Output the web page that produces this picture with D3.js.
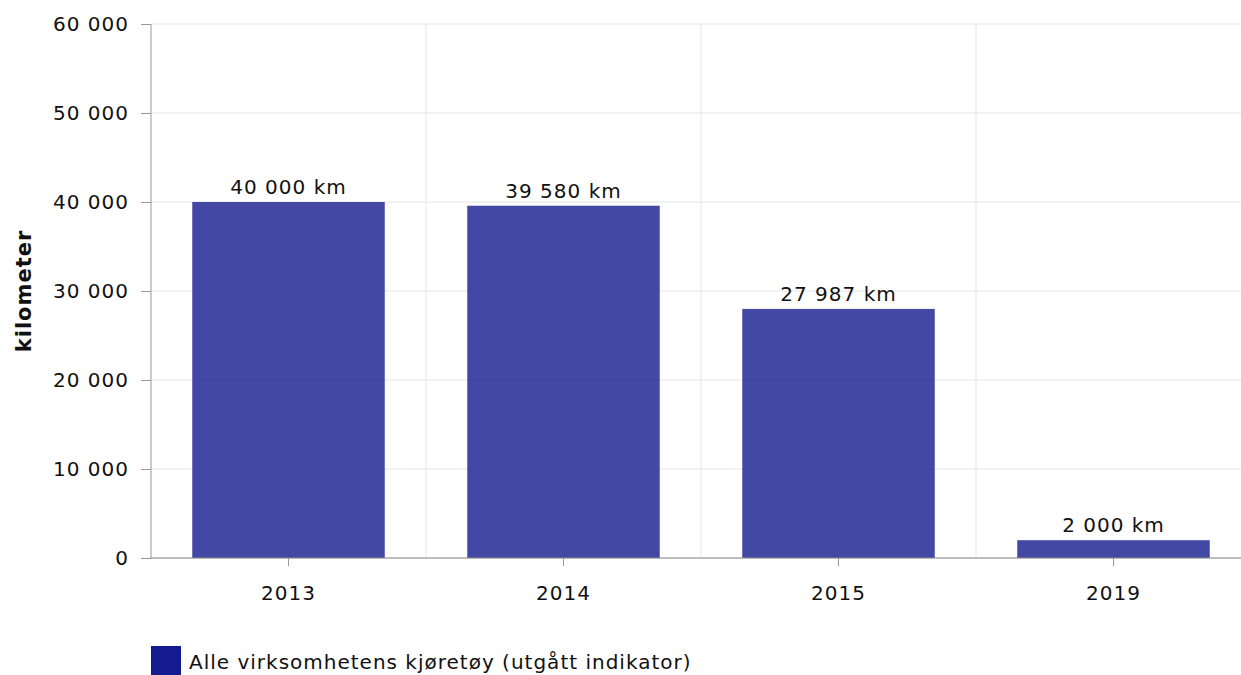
<!DOCTYPE html>
<html>
<head>
<meta charset="utf-8">
<script src="https://cdn.jsdelivr.net/npm/d3@7"></script>
<style>
  body { margin: 0; background: #fff; }
  svg { display: block; font-family: "DejaVu Sans", Verdana, sans-serif; letter-spacing: 1px; }
</style>
</head>
<body>
<div id="chart"></div>
<script>
// data
var years = ["2013", "2014", "2015", "2019"];
var km = [40000, 39580, 27987, 2000];
var yTicks = [0, 10000, 20000, 30000, 40000, 50000, 60000];
var seriesName = "Alle virksomhetens kjøretøy (utgått indikator)";

var margin = { top: 24, right: -10, bottom: 117, left: 151 };
var width = 1241 - margin.left - margin.right,
  height = 675 - margin.top - margin.bottom;
var fs = 20;

var svg = d3.select("#chart").append("svg")
  .attr("width", 1241)
  .attr("height", 675)
  .append("g")
  .attr("transform", "translate(" + margin.left + "," + margin.top + ")");

var fmt = function (v) { return d3.format(",")(v).replace(/,/g, " "); };

var x = d3.scaleBand()
  .domain(years)
  .range([0, width])
  .paddingInner(0.3)
  .paddingOuter(0.15);

var xCells = d3.scaleBand()
  .domain(years)
  .range([0, width]);

var y = d3.scaleLinear()
  .domain([0, 60000])
  .range([height, 0]);

// horizontal gridlines
svg.append("g").selectAll("line")
  .data(yTicks)
  .enter().append("line")
  .attr("x1", 0).attr("x2", width)
  .attr("y1", function (d) { return y(d); })
  .attr("y2", function (d) { return y(d); })
  .attr("stroke", "#e6e6e6");

// vertical gridlines between categories
svg.append("g").selectAll("line")
  .data(years.slice(1))
  .enter().append("line")
  .attr("x1", function (d) { return xCells(d); })
  .attr("x2", function (d) { return xCells(d); })
  .attr("y1", 0).attr("y2", height)
  .attr("stroke", "#e6e6e6");

// bars
svg.append("g").selectAll("rect")
  .data(years)
  .enter().append("rect")
  .attr("x", function (d) { return x(d); })
  .attr("width", x.bandwidth())
  .attr("y", function (d, i) { return y(km[i]); })
  .attr("height", function (d, i) { return height - y(km[i]); })
  .attr("fill", "#141a8f")
  .attr("fill-opacity", 0.8);

// value labels
svg.append("g").selectAll("text")
  .data(years)
  .enter().append("text")
  .attr("x", function (d) { return x(d) + x.bandwidth() / 2; })
  .attr("y", function (d, i) { return y(km[i]) - 8; })
  .attr("text-anchor", "middle")
  .attr("font-size", fs)
  .attr("fill", "#111")
  .text(function (d, i) { return fmt(km[i]) + " km"; });

// axes
var yAxis = svg.append("g")
  .call(d3.axisLeft(y).tickValues(yTicks).tickFormat(fmt).tickSize(10).tickPadding(12));
yAxis.attr("font-size", fs).attr("font-family", null);
yAxis.selectAll("text").attr("fill", "#111");
yAxis.selectAll("line").attr("stroke", "#999");
yAxis.select(".domain").attr("stroke", "#999").attr("d", "M0,0V" + height);

var xAxis = svg.append("g")
  .attr("transform", "translate(0," + height + ")")
  .call(d3.axisBottom(x).tickSize(8).tickPadding(20));
xAxis.attr("font-size", fs).attr("font-family", null);
xAxis.selectAll("text").attr("fill", "#111");
xAxis.selectAll("line").attr("stroke", "#999");
xAxis.select(".domain").attr("stroke", "#888").attr("d", "M0,0H" + width);

// y axis title
svg.append("text")
  .attr("transform", "translate(" + (-120) + "," + (height / 2) + ") rotate(-90)")
  .attr("text-anchor", "middle")
  .attr("font-size", 21)
  .attr("font-weight", "bold")
  .attr("fill", "#111")
  .text("kilometer");

// legend
var legend = svg.append("g")
  .attr("transform", "translate(0," + (height + 88) + ")");
legend.append("rect")
  .attr("width", 30).attr("height", 30)
  .attr("fill", "#141a8f");
legend.append("text")
  .attr("x", 38).attr("y", 23)
  .attr("font-size", fs)
  .attr("fill", "#111")
  .text(seriesName);
</script>
</body>
</html>
